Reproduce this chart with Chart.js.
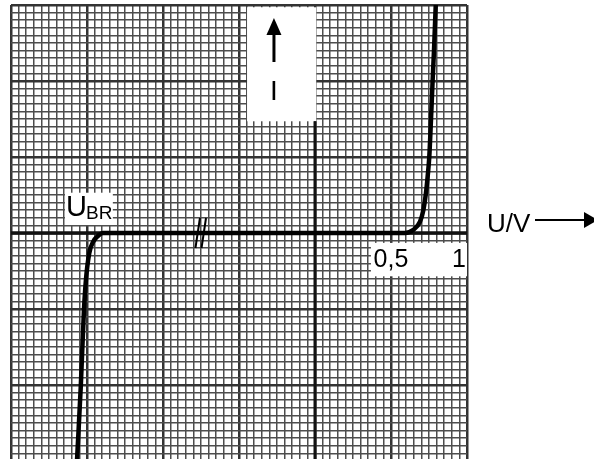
<!DOCTYPE html>
<html>
<head>
<meta charset="utf-8">
<script src="https://cdn.jsdelivr.net/npm/chart.js@4/dist/chart.umd.min.js"></script>
<style>
  html, body { margin: 0; padding: 0; background: #fff; }
  #wrap { width: 594px; height: 459px; overflow: hidden; position: relative; }
</style>
</head>
<body>
<div id="wrap"><canvas id="diode" width="594" height="466"></canvas></div>
<script>
// diode characteristic, U in volts (left side of the break is not to scale), I in grid divisions
const curveU = [-1.569, -1.566, -1.541, -1.520, -1.507, -1.485, -1.459, -1.428, -1.395,
                0.592, 0.645, 0.691, 0.713, 0.730, 0.741, 0.752, 0.763, 0.774, 0.783, 0.794, 0.797];
const curveI = [-3.12, -3.0, -2.022, -1.013, -0.618, -0.263, -0.114, -0.039, 0,
                0, 0.039, 0.149, 0.303, 0.526, 0.741, 1.004, 1.487, 2.013, 2.408, 2.978, 3.1];

const tickValues = [0.5, 1];
const tickLabels = ['0,5', '1'];

const xAxisLabel = 'U/V';
const yAxisLabel = 'I';
const breakdownLabel = ['U', 'BR'];

const FONT = '"Liberation Sans", Arial, sans-serif';

// graph paper: minor line every 0.05 V / 0.1 div, heavier every major step
function gridStyle(value, major) {
    const r = Math.abs(Math.round(value * 1000) / 1000) % major;
    if (r < 1e-6 || Math.abs(r - major) < 1e-6) {
        return { color: '#333', width: 2.5 };
    }
    return { color: '#4d4d4d', width: 1.5 };
}

const overlay = {
    id: 'overlay',
    beforeDatasetsDraw(chart) {
        const { ctx, scales: { x, y } } = chart;
        const x0 = x.getPixelForValue(0);
        const y0 = y.getPixelForValue(0);
        ctx.save();

        // white label boxes over the paper
        ctx.fillStyle = '#fff';
        const box = (u1, i1, u2, i2) => {
            const px1 = x.getPixelForValue(u1), px2 = x.getPixelForValue(u2);
            const py1 = y.getPixelForValue(i1), py2 = y.getPixelForValue(i2);
            ctx.fillRect(px1, py1, px2 - px1, py2 - py1);
        };
        box(-0.447, 2.97, 0.008, 1.47);
        box(-1.645, 0.53, -1.33, 0.105);
        box(0.368, -0.13, 1.0, -0.57);

        // axes
        ctx.strokeStyle = '#111';
        ctx.lineWidth = 3;
        ctx.beginPath();
        ctx.moveTo(x0, y.getPixelForValue(1.47));
        ctx.lineTo(x0, y.bottom);
        ctx.stroke();
        ctx.lineWidth = 3.5;
        ctx.beginPath();
        ctx.moveTo(x.left, y0);
        ctx.lineTo(x.right, y0);
        ctx.stroke();

        // scale break mark
        ctx.lineWidth = 2;
        ctx.strokeStyle = '#000';
        [-0.757, -0.717].forEach(u => {
            const px = x.getPixelForValue(u);
            ctx.beginPath();
            ctx.moveTo(px, y0 - 15);
            ctx.lineTo(px - 4.5, y0 + 15);
            ctx.stroke();
        });

        // tick labels
        ctx.fillStyle = '#000';
        ctx.font = '25px ' + FONT;
        ctx.textBaseline = 'alphabetic';
        tickValues.forEach((v, i) => {
            const px = x.getPixelForValue(v);
            if (v === x.max) {
                ctx.textAlign = 'right';
                ctx.fillText(tickLabels[i], px - 1, y0 + 34);
            } else {
                ctx.textAlign = 'center';
                ctx.fillText(tickLabels[i], px, y0 + 34);
            }
        });

        // U_BR
        const bx = x.getPixelForValue(-1.638);
        ctx.textAlign = 'left';
        ctx.font = '29px ' + FONT;
        ctx.fillText(breakdownLabel[0], bx, y0 - 17);
        const uw = ctx.measureText(breakdownLabel[0]).width;
        ctx.font = '19px ' + FONT;
        ctx.fillText(breakdownLabel[1], bx + uw - 1, y0 - 14);

        // I with arrow
        const ix = x.getPixelForValue(-0.27);
        ctx.font = '28px ' + FONT;
        ctx.textAlign = 'center';
        ctx.fillText(yAxisLabel, ix, 100);
        ctx.lineWidth = 3;
        ctx.beginPath();
        ctx.moveTo(ix, 62);
        ctx.lineTo(ix, 32);
        ctx.stroke();
        ctx.beginPath();
        ctx.moveTo(ix, 18);
        ctx.lineTo(ix - 7.5, 35);
        ctx.lineTo(ix + 7.5, 35);
        ctx.closePath();
        ctx.fill();

        ctx.restore();
    },
    afterDraw(chart) {
        const { ctx, scales: { x, y } } = chart;
        const y0 = y.getPixelForValue(0);
        ctx.save();
        ctx.fillStyle = '#000';
        ctx.strokeStyle = '#000';
        ctx.font = '26px ' + FONT;
        ctx.textAlign = 'left';
        ctx.textBaseline = 'alphabetic';
        ctx.fillText(xAxisLabel, x.right + 20, y0 - 1);
        const ay = y0 - 13;
        ctx.lineWidth = 2;
        ctx.beginPath();
        ctx.moveTo(x.right + 68, ay);
        ctx.lineTo(x.right + 120, ay);
        ctx.stroke();
        ctx.beginPath();
        ctx.moveTo(x.right + 131, ay);
        ctx.lineTo(x.right + 117, ay - 8);
        ctx.lineTo(x.right + 117, ay + 8);
        ctx.closePath();
        ctx.fill();
        ctx.restore();
    }
};

new Chart(document.getElementById('diode'), {
    type: 'line',
    data: {
        datasets: [{
            data: curveU.map((u, i) => ({ x: u, y: curveI[i] })),
            borderColor: '#000',
            borderWidth: 4.5,
            pointRadius: 0,
            cubicInterpolationMode: 'monotone',
            fill: false
        }]
    },
    options: {
        responsive: false,
        animation: false,
        layout: { padding: { left: 11, right: 127, top: 5, bottom: 5 } },
        plugins: { legend: { display: false }, tooltip: { enabled: false } },
        scales: {
            x: {
                type: 'linear',
                min: -2,
                max: 1,
                ticks: { display: false, stepSize: 0.05 },
                border: { display: false },
                grid: {
                    drawTicks: false,
                    color: c => gridStyle(c.tick.value, 0.5).color,
                    lineWidth: c => gridStyle(c.tick.value, 0.5).width
                }
            },
            y: {
                type: 'linear',
                min: -3,
                max: 3,
                ticks: { display: false, stepSize: 0.1 },
                border: { display: false },
                grid: {
                    drawTicks: false,
                    color: c => gridStyle(c.tick.value, 1).color,
                    lineWidth: c => gridStyle(c.tick.value, 1).width
                }
            }
        }
    },
    plugins: [overlay]
});
</script>
</body>
</html>
